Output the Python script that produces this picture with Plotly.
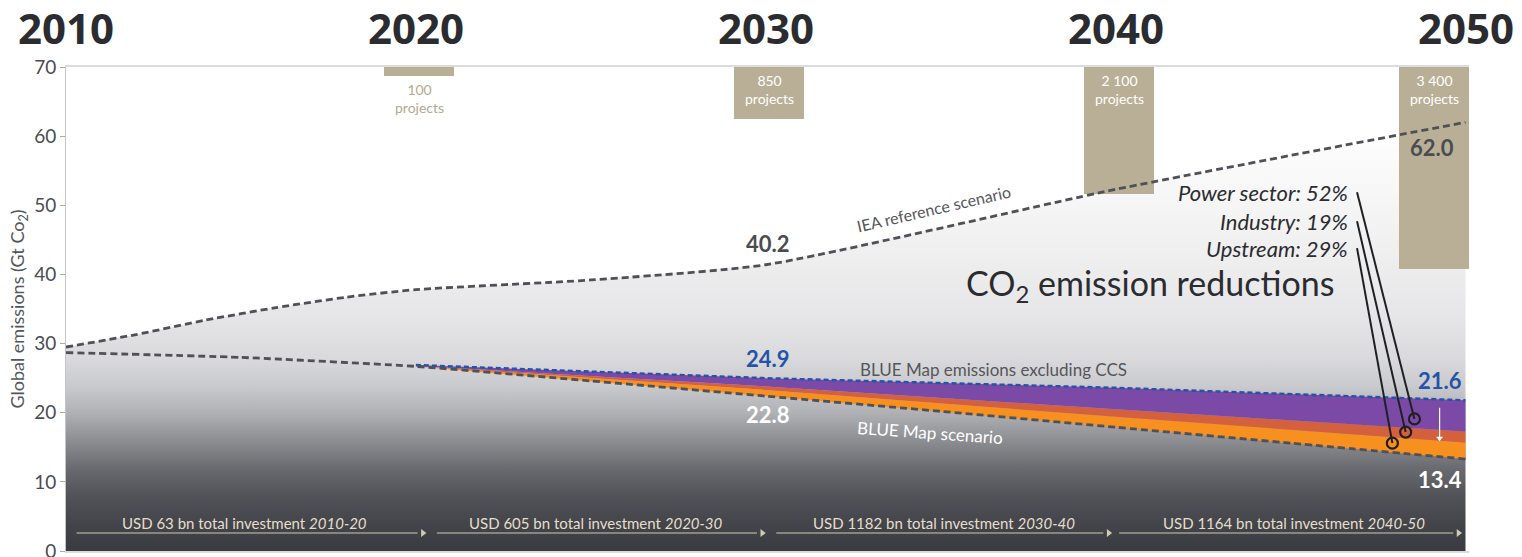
import plotly.graph_objects as go

# ---------------- data ----------------
decade_years = [2010, 2020, 2030, 2040, 2050]
decade_labels = ["2010", "2020", "2030", "2040", "2050"]

iea_years = [2010, 2012, 2014, 2016, 2018, 2020, 2025, 2030, 2040, 2050]
iea_reference = [29.5, 31.3, 33.4, 35.2, 36.7, 37.8, 39.2, 41.4, 52.3, 62.0]

blue_years = [2010, 2015, 2020, 2025, 2030, 2035, 2040, 2045, 2050]
blue_map = [28.7, 28.0, 26.7, 24.6, 22.4, 20.2, 17.9, 15.6, 13.3]

band_years = [2020, 2030, 2040, 2050]
band_base = [26.7, 22.4, 17.9, 13.3]        # BLUE Map scenario
upstream_top = [26.75, 23.3, 19.4, 15.7]    # orange band top
industry_top = [26.8, 23.8, 20.5, 17.3]     # red band top
excl_ccs = [26.9, 25.0, 23.6, 21.8]         # BLUE Map excluding CCS

project_x = [2020.1, 2030.1, 2040.1, 2049.1]
project_bottom = [68.7, 62.5, 51.6, 40.8]
project_top = [70, 70, 70, 70]
project_counts = ["100", "850", "2 100", "3 400"]

sector_labels = ["Power sector: 52%", "Industry: 19%", "Upstream: 29%"]
sector_label_y = [51.9, 47.7, 43.8]
sector_point_x = [2048.54, 2048.29, 2047.91]
sector_point_y = [19.1, 17.2, 15.6]

invest_labels = ["USD 63 bn total investment <i>2010-20</i>",
                 "USD 605 bn total investment <i>2020-30</i>",
                 "USD 1182 bn total investment <i>2030-40</i>",
                 "USD 1164 bn total investment <i>2040-50</i>"]
invest_center = [2015.1, 2025.15, 2035.1, 2045.1]
invest_start = [2010.3, 2020.6, 2030.3, 2040.1]
invest_end = [2020.2, 2029.9, 2039.8, 2049.8]

BODY = "Lato, 'Open Sans', sans-serif"
DARK = "#2b2c30"
GREY = "#4b4c51"
BLUE = "#2553a8"
DASH_GREY = "#505156"

fig = go.Figure()

# gradient background under the reference scenario
fig.add_trace(go.Scatter(
    x=iea_years, y=iea_reference, mode="none", fill="tozeroy",
    fillgradient=dict(type="vertical", start=0, stop=62, colorscale=[
        [0 / 62, "#3a3b40"], [4 / 62, "#44454a"], [8 / 62, "#525358"],
        [12 / 62, "#6a6b70"], [16 / 62, "#8d8e92"], [20 / 62, "#b0b1b5"],
        [24 / 62, "#cacbce"], [28 / 62, "#dadadd"], [34 / 62, "#e6e6e8"],
        [42 / 62, "#eeeeef"], [52 / 62, "#f7f7f7"], [1, "#ffffff"]]),
    hoverinfo="skip", showlegend=False))

# project bars (overlay subplot so they sit above the background)
fig.add_trace(go.Bar(
    x=project_x, y=[t - b for t, b in zip(project_top, project_bottom)],
    base=project_bottom, width=2, marker=dict(color="#b9af96", line=dict(width=0)),
    xaxis="x2", yaxis="y2", showlegend=False, hoverinfo="skip"))

# stacked reduction bands
fig.add_trace(go.Scatter(x=band_years, y=band_base, mode="lines", line=dict(width=0),
                         xaxis="x2", yaxis="y2", showlegend=False, hoverinfo="skip"))
fig.add_trace(go.Scatter(x=band_years, y=upstream_top, mode="lines", line=dict(width=0),
                         fill="tonexty", fillcolor="#f7901e",
                         xaxis="x2", yaxis="y2", showlegend=False, hoverinfo="skip"))
fig.add_trace(go.Scatter(x=band_years, y=industry_top, mode="lines", line=dict(width=0),
                         fill="tonexty", fillcolor="#d4603d",
                         xaxis="x2", yaxis="y2", showlegend=False, hoverinfo="skip"))
fig.add_trace(go.Scatter(x=band_years, y=excl_ccs, mode="lines", line=dict(width=0),
                         fill="tonexty", fillcolor="#7b4aa6",
                         xaxis="x2", yaxis="y2", showlegend=False, hoverinfo="skip"))

# dashed scenario lines
fig.add_trace(go.Scatter(x=iea_years, y=iea_reference, mode="lines",
                         line=dict(color=DASH_GREY, width=2.8, dash="7px,4px", shape="spline", smoothing=0.6),
                         xaxis="x2", yaxis="y2", showlegend=False, hoverinfo="skip"))
fig.add_trace(go.Scatter(x=blue_years, y=blue_map, mode="lines",
                         line=dict(color=DASH_GREY, width=2.8, dash="7px,4px", shape="spline", smoothing=0.5),
                         xaxis="x2", yaxis="y2", showlegend=False, hoverinfo="skip"))
fig.add_trace(go.Scatter(x=band_years, y=excl_ccs, mode="lines",
                         line=dict(color=BLUE, width=2.4, dash="5px,3px"),
                         xaxis="x2", yaxis="y2", showlegend=False, hoverinfo="skip"))

# leader lines + circles
for lab, ly, px, py in zip(sector_labels, sector_label_y, sector_point_x, sector_point_y):
    fig.add_shape(type="line", xref="x", yref="y", x0=2046.9, y0=ly, x1=px, y1=py,
                  line=dict(color="#1f2024", width=2))
fig.add_trace(go.Scatter(x=sector_point_x, y=sector_point_y, mode="markers",
                         marker=dict(symbol="circle-open", size=11, color="#1f2024", line=dict(width=2.2)),
                         xaxis="x2", yaxis="y2", showlegend=False, hoverinfo="skip"))

# investment arrows (lines with arrowheads)
for s, e in zip(invest_start, invest_end):
    fig.add_shape(type="line", xref="x", yref="y", x0=s, y0=2.6, x1=e - 0.15, y1=2.6,
                  line=dict(color="#cfc9b5", width=1.2))
fig.add_trace(go.Scatter(x=invest_end, y=[2.6] * len(invest_end), mode="markers",
                         marker=dict(symbol="triangle-right", size=7, color="#cfc9b5"),
                         xaxis="x2", yaxis="y2", showlegend=False, hoverinfo="skip"))

ann = []
# decade headers
for yr, lab in zip(decade_years, decade_labels):
    ann.append(dict(x=yr, y=1, xref="x", yref="paper", text=lab, showarrow=False,
                    yanchor="middle", yshift=40,
                    font=dict(family="'Open Sans', sans-serif", size=42, color=DARK, weight="bold")))
# project labels
for i, (px, cnt) in enumerate(zip(project_x, project_counts)):
    col = "#b3a98e" if i == 0 else "#ffffff"
    yy = 65.5 if i == 0 else 66.7
    ann.append(dict(x=px, y=yy, text=cnt + "<br>projects", showarrow=False,
                    font=dict(family=BODY, size=14, color=col)))
# sector labels
for lab, ly in zip(sector_labels, sector_label_y):
    ann.append(dict(x=2046.69, y=ly, text="<i>" + lab + "</i>", showarrow=False, xanchor="right",
                    font=dict(family=BODY, size=22, color=DARK)))
# values
ann += [
    dict(x=2030.06, y=44.5, text="<b>40.2</b>", showarrow=False, font=dict(family=BODY, size=22, color=GREY)),
    dict(x=2030.06, y=27.9, text="<b>24.9</b>", showarrow=False, font=dict(family=BODY, size=22, color=BLUE)),
    dict(x=2030.06, y=19.7, text="<b>22.8</b>", showarrow=False, font=dict(family=BODY, size=22, color="#ffffff")),
    dict(x=2049.03, y=58.3, text="<b>62.0</b>", showarrow=False, font=dict(family=BODY, size=22, color=GREY)),
    dict(x=2049.26, y=24.7, text="<b>21.6</b>", showarrow=False, font=dict(family=BODY, size=22, color=BLUE)),
    dict(x=2049.26, y=10.4, text="<b>13.4</b>", showarrow=False, font=dict(family=BODY, size=22, color="#ffffff")),
    dict(x=2036.5, y=26.3, text="BLUE Map emissions excluding CCS", showarrow=False,
         font=dict(family=BODY, size=17, color="#55565b")),
    dict(x=2034.7, y=17.2, text="BLUE Map scenario", showarrow=False, textangle=4,
         font=dict(family=BODY, size=17, color="#ffffff")),
    dict(x=2034.8, y=49.6, text="IEA reference scenario", showarrow=False, textangle=-13,
         font=dict(family=BODY, size=16, color="#55565b")),
    dict(x=2040.97, y=38.5, text="CO<sub>2</sub> emission reductions", showarrow=False,
         font=dict(family=BODY, size=34, color=DARK)),
]
# investment labels
for lab, c in zip(invest_labels, invest_center):
    ann.append(dict(x=c, y=4.05, text=lab, showarrow=False,
                    font=dict(family=BODY, size=15, color="#e4dfcc")))

# white down arrow at 2050 (line + head)
fig.add_shape(type="line", xref="x", yref="y", x0=2049.26, y0=20.7, x1=2049.26, y1=16.5,
              line=dict(color="#ffffff", width=1.2))
fig.add_trace(go.Scatter(x=[2049.26], y=[16.3], mode="markers",
                         marker=dict(symbol="triangle-down", size=6, color="#ffffff"),
                         xaxis="x2", yaxis="y2", showlegend=False, hoverinfo="skip"))

fig.update_layout(
    width=1522, height=557,
    margin=dict(l=66, r=53, t=67, b=6, autoexpand=False),
    paper_bgcolor="#ffffff", plot_bgcolor="#ffffff",
    showlegend=False,
    annotations=ann,
    xaxis=dict(range=[2010, 2050.1], showgrid=False, zeroline=False, showticklabels=False,
               showline=True, linecolor="#dcdcdc", linewidth=1.5, mirror=True, ticks="",
               automargin=False),
    yaxis=dict(range=[0, 70], tickvals=[0, 10, 20, 30, 40, 50, 60, 70], showgrid=False, zeroline=False,
               showline=True, linecolor="#c4c4c4", linewidth=1, ticks="outside", ticklen=5,
               tickcolor="#aaaaaa", tickfont=dict(family=BODY, size=19, color=GREY),
               ticklabeloverflow="allow", automargin=False,
               title=dict(text="Global emissions (Gt Co<sub>2</sub>)", standoff=4,
                          font=dict(family=BODY, size=18, color="#55565b"))),
    xaxis2=dict(range=[2010, 2050.1], overlaying="x", visible=False, anchor="y2"),
    yaxis2=dict(range=[0, 70], overlaying="y", visible=False, anchor="x2"),
    bargap=0,
)

fig.write_html("out.html")
